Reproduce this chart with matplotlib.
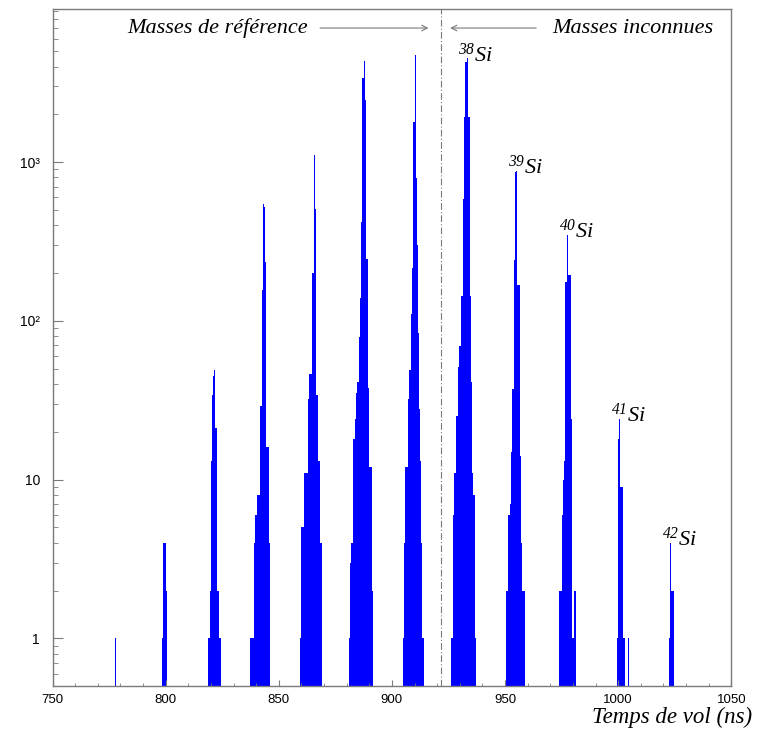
"""Time-of-flight spectrum of Si isotopes (log scale histogram)."""

import matplotlib
matplotlib.use("Agg")
import matplotlib.pyplot as plt
from matplotlib.ticker import LogLocator, MultipleLocator, NullFormatter
import numpy as np

plt.rcParams.update({
    "font.family": "Liberation Sans",
    # math text is only used for the isotope labels: italic serif throughout
    "mathtext.fontset": "custom",
    "mathtext.rm": "Liberation Serif:italic",
    "mathtext.it": "Liberation Serif:italic",
    "mathtext.bf": "Liberation Serif:bold",
})

# --- data -----------------------------------------------------------------
BIN_WIDTH = 0.5  # ns

# left edge (ns) of the first bin of each peak group
peak_starts = [777.5, 798.5, 818.5, 837.5, 859.5, 881.0, 905.0,
               926.0, 950.5, 974.0, 999.5, 1004.5, 1022.5]

# counts per bin for each group
peak_counts = [
    [1],
    [1, 4, 4, 2],
    [1, 1, 2, 13, 34, 45, 49, 21, 2, 2, 1, 1],
    [1, 1, 1, 4, 6, 6, 8, 8, 29, 29, 157, 547, 521, 234, 16, 16, 4],
    [1, 5, 5, 11, 11, 11, 11, 32, 46, 46, 200, 200, 1115, 510, 34, 34, 13, 4, 4],
    [1, 3, 4, 4, 18, 24, 35, 41, 41, 79, 140, 420, 3385, 4318, 2445, 244,
     244, 38, 12, 12, 2],
    [1, 4, 12, 12, 32, 49, 49, 110, 214, 1778, 4750, 794, 300, 84, 28, 13, 4, 1],
    [1, 1, 6, 11, 11, 25, 51, 69, 69, 144, 144, 585, 1928, 4240, 4500, 1928,
     1928, 144, 41, 11, 8, 1],
    [2, 2, 6, 7, 15, 37, 37, 241, 865, 877, 168, 168, 14, 4, 2, 2, 2],
    [2, 2, 6, 10, 13, 176, 176, 347, 194, 194, 24, 1, 1, 2, 2],
    [1, 18, 24, 9, 9, 1, 1],
    [1],
    [1, 4, 2, 2],
]

isotope_masses = [38, 39, 40, 41, 42]
isotope_groups = [7, 8, 9, 10, 12]

separator_ns = 921.7

x_ticks = [750, 800, 850, 900, 950, 1000, 1050]
y_ticks = [1, 10, 100, 1000]
y_tick_labels = ["1", "10", "10²", "10³"]

BLUE = "#0000ff"
GREY = "#7a7a7a"
SERIF = "Liberation Serif"

# --- figure ----------------------------------------------------------------
fig = plt.figure(figsize=(7.61, 7.33), dpi=100)
ax = fig.add_axes([0.069, 0.064, 0.892, 0.9236])

for start, counts in zip(peak_starts, peak_counts):
    edges = start + BIN_WIDTH * np.arange(len(counts) + 1)
    ax.stairs(counts, edges, baseline=0.1, fill=True, color=BLUE, lw=0.5)

ax.set_yscale("log")
ax.set_xlim(750, 1050)
ax.set_ylim(0.5, 9200)

ax.set_xticks(x_ticks)
ax.xaxis.set_minor_locator(MultipleLocator(10))
ax.set_yticks(y_ticks, labels=y_tick_labels)
ax.yaxis.set_minor_locator(LogLocator(base=10, subs=range(2, 10), numticks=50))
ax.yaxis.set_minor_formatter(NullFormatter())

ax.tick_params(which="both", direction="in", top=False, right=False,
               color=GREY, labelsize=9.5)
ax.tick_params(axis="y", which="major", length=7, pad=9, labelsize=10)
ax.tick_params(axis="y", which="minor", length=3.5)
ax.tick_params(axis="x", which="major", length=4, pad=6)
ax.tick_params(axis="x", which="minor", length=2)
for sp in ax.spines.values():
    sp.set_color(GREY)
    sp.set_linewidth(1.0)

# separator between reference and unknown masses
ax.axvline(separator_ns, color=GREY, ls=(0, (6, 2, 1, 2)), lw=0.8)

trans = ax.get_xaxis_transform()
y_top = 0.972
ax.text(783.0, y_top, "Masses de référence", transform=trans,
        family=SERIF, style="italic", fontsize=16, ha="left", va="center")
ax.text(1042.2, y_top, "Masses inconnues", transform=trans,
        family=SERIF, style="italic", fontsize=16, ha="right", va="center")
ax.annotate("", xy=(separator_ns - 4.3, y_top), xytext=(867.0, y_top),
            xycoords=trans, arrowprops=dict(arrowstyle="->", color=GREY, lw=0.8))
ax.annotate("", xy=(separator_ns + 2.8, y_top), xytext=(965.0, y_top),
            xycoords=trans, arrowprops=dict(arrowstyle="->", color=GREY, lw=0.8))

# isotope labels on the unknown-mass peaks
for mass, g in zip(isotope_masses, isotope_groups):
    counts = peak_counts[g]
    i = int(np.argmax(counts))
    x = peak_starts[g] + (i + 0.5) * BIN_WIDTH
    ax.annotate(rf"$^{{{mass}}}Si$", xy=(x, counts[i]),
                xytext=(-9, -3), textcoords="offset pixels",
                ha="left", va="baseline", fontsize=16)

fig.text(0.988, 0.021, "Temps de vol (ns)", family=SERIF, style="italic",
         fontsize=16.5, ha="right", va="center")

fig.savefig("out.png", dpi=100)
plt.close(fig)
